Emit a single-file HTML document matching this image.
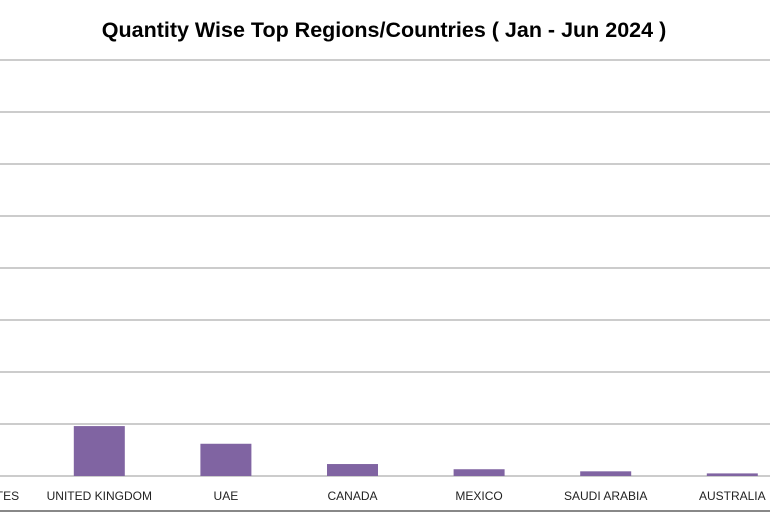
<!DOCTYPE html>
<html><head><meta charset="utf-8"><style>
html,body{margin:0;padding:0;background:#fff;width:770px;height:513px;overflow:hidden}
svg{display:block}
</style></head><body>
<svg id="chart" width="770" height="513" xmlns="http://www.w3.org/2000/svg">
<text x="384" y="37" text-anchor="middle" font-family="Liberation Sans, sans-serif" font-weight="bold" font-size="21.5" fill="#000">Quantity Wise Top Regions/Countries ( Jan - Jun 2024 )</text>
<g id="grid"></g><g id="bars"></g><g id="labels"></g>
<line x1="0" y1="511" x2="770" y2="511" stroke="#888" stroke-width="2"/>
</svg>
<script>
const categories = ["UNITED STATES","UNITED KINGDOM","UAE","CANADA","MEXICO","SAUDI ARABIA","AUSTRALIA"];
const values = [9.5,0.96,0.62,0.23,0.13,0.09,0.05];
const gridTicks = [0,1,2,3,4,5,6,7,8];
const NS="http://www.w3.org/2000/svg";
const baseY=476, unit=52, step=126.6, firstX=-27.3, barW=51;
const yScale=v=>baseY-v*unit;
const xScale=i=>firstX+i*step;
const g=document.getElementById('grid'), b=document.getElementById('bars'), l=document.getElementById('labels');
gridTicks.forEach(t=>{
  const ln=document.createElementNS(NS,'line');
  ln.setAttribute('x1',0);ln.setAttribute('x2',770);
  ln.setAttribute('y1',yScale(t));ln.setAttribute('y2',yScale(t));
  ln.setAttribute('stroke','#999');ln.setAttribute('stroke-width','1');
  
  
  g.appendChild(ln);
});
categories.forEach((c,i)=>{
  const cx=xScale(i);
  const top=Math.max(yScale(values[i]),60);
  const r=document.createElementNS(NS,'rect');
  r.setAttribute('x',cx-barW/2);r.setAttribute('width',barW);
  r.setAttribute('y',top);r.setAttribute('height',baseY-top);
  r.setAttribute('fill','#8064a2');
  
  
  b.appendChild(r);
  const t=document.createElementNS(NS,'text');
  t.setAttribute('x',cx);t.setAttribute('y',500);
  t.setAttribute('text-anchor','middle');
  t.setAttribute('font-family','Liberation Sans, sans-serif');
  t.setAttribute('font-size','12');t.setAttribute('fill','#222');
  t.textContent=c;
  
  
  l.appendChild(t);
});
</script>
</body></html>
